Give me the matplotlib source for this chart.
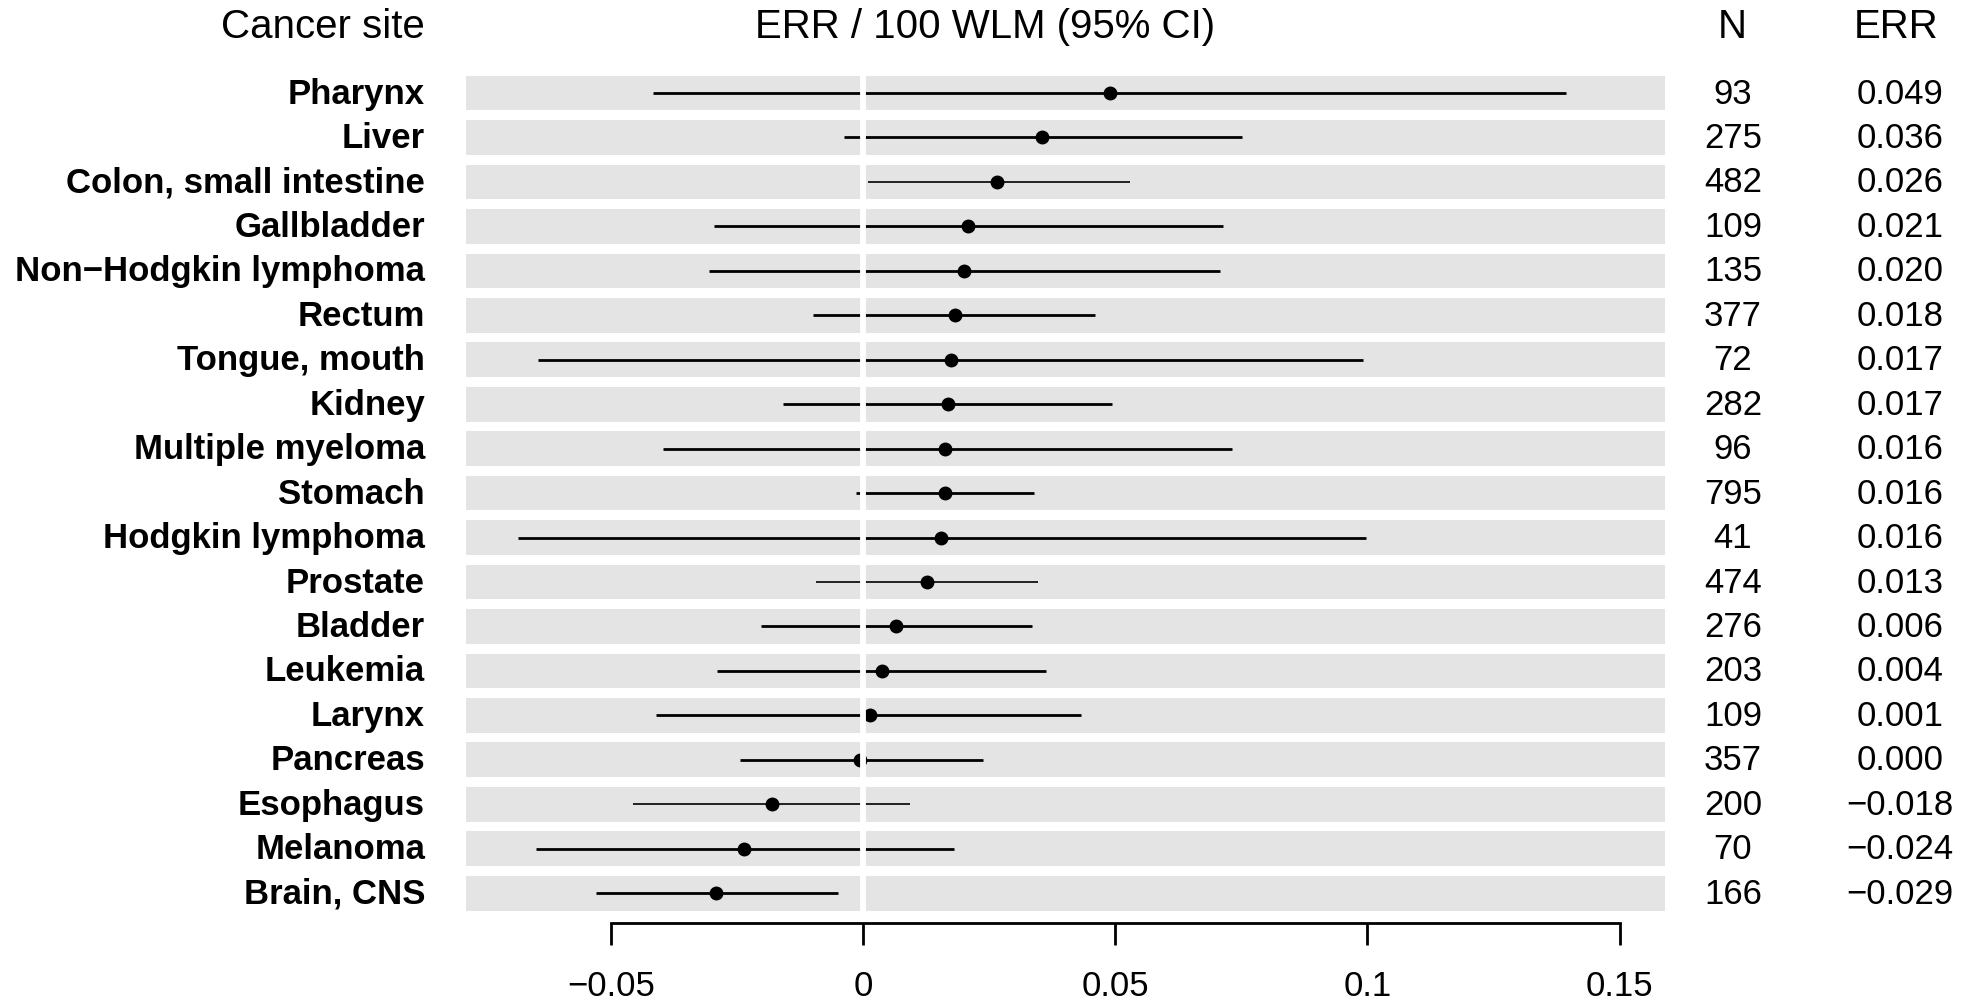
import matplotlib
matplotlib.use('Agg')
import matplotlib.pyplot as plt
import matplotlib.transforms as mtransforms
import numpy as np

plt.rcParams['font.family'] = ['Liberation Sans', 'DejaVu Sans']

sites = ["Pharynx", "Liver", "Colon, small intestine", "Gallbladder",
         "Non\u2212Hodgkin lymphoma", "Rectum", "Tongue, mouth", "Kidney",
         "Multiple myeloma", "Stomach", "Hodgkin lymphoma", "Prostate",
         "Bladder", "Leukemia", "Larynx", "Pancreas", "Esophagus",
         "Melanoma", "Brain, CNS"]
n_cases = [93, 275, 482, 109, 135, 377, 72, 282, 96, 795, 41, 474, 276,
           203, 109, 357, 200, 70, 166]
err = [0.049, 0.036, 0.026, 0.021, 0.020, 0.018, 0.017, 0.017, 0.016, 0.016,
       0.016, 0.013, 0.006, 0.004, 0.001, 0.000, -0.018, -0.024, -0.029]
# point positions as drawn (unrounded estimates)
err_point = [0.0489, 0.0355, 0.0265, 0.0209, 0.0201, 0.0182, 0.0175, 0.0169,
             0.0163, 0.0163, 0.0155, 0.0126, 0.0066, 0.0038, 0.0013, -0.0006,
             -0.0180, -0.0236, -0.0291]
ci_low = [-0.0416, -0.0037, 0.0010, -0.0295, -0.0306, -0.0100, -0.0644,
          -0.0158, -0.0397, -0.0013, -0.0684, -0.0094, -0.0203, -0.0289,
          -0.0410, -0.0243, -0.0455, -0.0649, -0.0529]
ci_high = [0.1393, 0.0752, 0.0530, 0.0713, 0.0707, 0.0460, 0.0992, 0.0494,
           0.0731, 0.0340, 0.0998, 0.0346, 0.0335, 0.0363, 0.0433, 0.0237,
           0.0094, 0.0181, -0.0050]
xticks = [-0.05, 0, 0.05, 0.1, 0.15]
xtick_labels = ["\u22120.05", "0", "0.05", "0.1", "0.15"]
thin_rows = ["Colon, small intestine", "Prostate", "Esophagus"]

W, H = 1972, 1004
fig = plt.figure(figsize=(W / 100, H / 100), dpi=100)
ax = fig.add_axes([466 / W, 0, (1665 - 466) / W, 1])
ax.set_xlim(-0.0787, 0.159)
ax.set_ylim(20.47, -2.115)
ax.patch.set_visible(False)

y = np.arange(len(sites))
x0, x1 = ax.get_xlim()
ax.barh(y, x1 - x0, left=x0, height=0.78, color='#e4e4e4', zorder=0)

for i, s in enumerate(sites):
    lw = 1.2 if s in thin_rows else 2.0
    ax.hlines(y[i], ci_low[i], ci_high[i], color='black', lw=lw, zorder=2)
ax.plot(err_point, y, 'o', color='black', ms=9, zorder=3)
ax.vlines(0, -0.41, 18.41, color='white', lw=4.2, zorder=4)

for sp in ['top', 'left', 'right']:
    ax.spines[sp].set_visible(False)
ax.spines['bottom'].set_position(('data', 18.68))
ax.spines['bottom'].set_bounds(-0.05, 0.15)
ax.spines['bottom'].set_linewidth(2)
ax.set_yticks([])
ax.set_xticks(xticks)
ax.set_xticklabels(xtick_labels)
ax.tick_params(axis='x', direction='out', length=15.8, width=2, pad=17,
               labelsize=25)

trans = mtransforms.blended_transform_factory(fig.transFigure, ax.transData)
for i in range(len(sites)):
    ax.text(425 / W, y[i], sites[i], transform=trans, ha='right', va='center',
            fontsize=25, fontweight='bold')
    ax.text(1733 / W, y[i], str(n_cases[i]), transform=trans, ha='center',
            va='center', fontsize=25)
    ax.text(1900 / W, y[i], f"{err[i]:.3f}".replace('-', '\u2212'),
            transform=trans, ha='center', va='center', fontsize=25)

hy = -1.507
ax.text(425 / W, hy, "Cancer site", transform=trans, ha='right', va='center', fontsize=29)
ax.text(985 / W, hy, "ERR / 100 WLM (95% CI)", transform=trans, ha='center', va='center', fontsize=29)
ax.text(1732 / W, hy, "N", transform=trans, ha='center', va='center', fontsize=29)
ax.text(1896 / W, hy, "ERR", transform=trans, ha='center', va='center', fontsize=29)

fig.savefig('out.png', dpi=100)
